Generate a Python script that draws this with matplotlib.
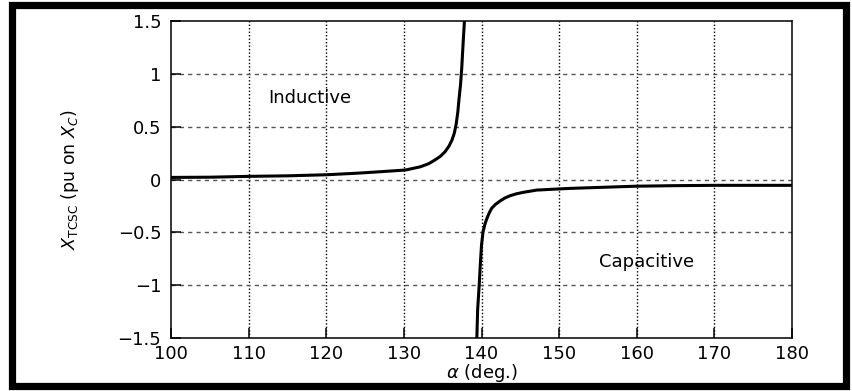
import numpy as np
import matplotlib
matplotlib.use("Agg")
import matplotlib.pyplot as plt
from matplotlib.patches import Rectangle

# inductive branch (alpha in deg, X_TCSC in pu on X_C)
ind_alpha = [100, 105, 110, 115, 120, 124, 127, 130.2, 132.1, 133.2, 134.0, 134.7,
             135.3, 135.8, 136.2, 136.5, 136.75, 136.95, 137.1, 137.3, 137.45,
             137.6, 137.8]
ind_x = [0.02, 0.022, 0.03, 0.035, 0.045, 0.06, 0.074, 0.09, 0.12, 0.15, 0.185, 0.22,
         0.263, 0.315, 0.374, 0.44, 0.53, 0.64, 0.76, 0.9, 1.05,
         1.25, 1.5]

# capacitive branch
cap_alpha = [139.4, 139.5, 139.7, 139.85, 140.0, 140.2, 140.45, 140.7, 141.0, 141.3,
             141.8, 142.4, 143.0, 143.7, 144.5, 145.4, 147.1, 149.7, 151.4,
             155, 160, 165, 170, 175, 180]
cap_x = [-1.5, -1.235, -1.0, -0.8, -0.62, -0.494, -0.42, -0.367, -0.315, -0.273,
         -0.235, -0.203, -0.175, -0.153, -0.135, -0.121, -0.1, -0.09, -0.084,
         -0.075, -0.063, -0.058, -0.055, -0.055, -0.055]

xticks = [100, 110, 120, 130, 140, 150, 160, 170, 180]
yticks = [-1.5, -1, -0.5, 0, 0.5, 1, 1.5]
ytick_labels = ["\u22121.5", "\u22121", "\u22120.5", "0", "0.5", "1", "1.5"]

plt.rcParams['font.family'] = ['DejaVu Sans']
plt.rcParams['mathtext.fontset'] = 'dejavusans'

fig = plt.figure(figsize=(8.52, 3.91), dpi=100)
ax = fig.add_axes([0.2007, 0.1355, 0.7289, 0.8107])

ax.plot(ind_alpha, ind_x, color='black', linewidth=2.2, solid_joinstyle='round')
ax.plot(cap_alpha, cap_x, color='black', linewidth=2.2, solid_joinstyle='round')

ax.set_xlim(100, 180)
ax.set_ylim(-1.5, 1.5)
ax.set_xticks(xticks)
ax.set_xticklabels([str(t) for t in xticks])
ax.set_yticks(yticks)
ax.set_yticklabels(ytick_labels)

# grid: dotted verticals, dashed horizontals
for t in xticks[1:-1]:
    ax.axvline(t, color='black', linestyle=(0, (1, 1.5)), linewidth=1.0, zorder=0)
for t in yticks[1:-1]:
    ax.axhline(t, color='#555555', linestyle=(0, (3, 3)), linewidth=1.0, zorder=0)

ax.tick_params(direction='in', length=7, width=1.1, labelsize=13, top=False, right=False)
ax.tick_params(axis='y', pad=7)
ax.tick_params(axis='x', pad=5)
for s in ax.spines.values():
    s.set_linewidth(1.1)

ax.text(117.9, 0.77, "Inductive", fontsize=13, ha='center', va='center')
ax.text(161.2, -0.78, "Capacitive", fontsize=13, ha='center', va='center')

ax.set_xlabel(r"$\alpha$ (deg.)", fontsize=13, labelpad=-1)
ax.set_ylabel(r"$X_{\mathrm{TCSC}}$ (pu on $X_C$)", fontsize=12.5, labelpad=26)

# black frame round the whole picture
fig.patches.append(Rectangle((11.5 / 852, 5 / 391), 834.5 / 852, 381 / 391,
                             transform=fig.transFigure, fill=False,
                             edgecolor='black', linewidth=5.2))

fig.savefig("out.png", dpi=100)
